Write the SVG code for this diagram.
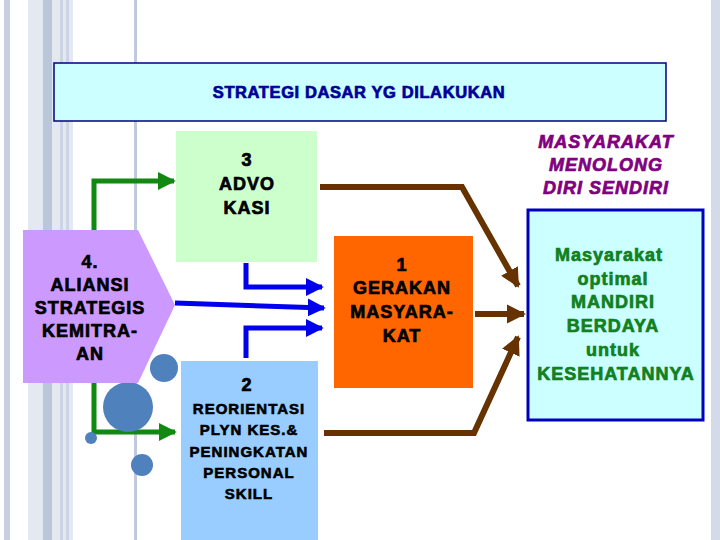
<svg xmlns="http://www.w3.org/2000/svg" width="720" height="540" viewBox="0 0 720 540">
<defs>
<style>
.t{font-family:"Liberation Sans",Arial,sans-serif;font-weight:bold;text-anchor:middle;letter-spacing:1px;stroke-width:0.7px}
.k{font-size:18px;fill:#000;stroke:#000}
.s{font-size:15px;fill:#000;stroke:#000;stroke-width:0.6px}
.g{font-size:18px;fill:#108020;stroke:#108020}
.p{font-size:18px;fill:#800080;stroke:#800080;font-style:italic}
.br{stroke:#663300;stroke-width:6;fill:none}
.bl{stroke:#0000ee;stroke-width:5;fill:none}
.gr{stroke:#118811;stroke-width:5;fill:none}
.c{fill:#4f81bd}
</style>
<marker id="mb" viewBox="0 0 10 10" refX="9" refY="5" markerWidth="3.2" markerHeight="3.2" orient="auto" markerUnits="strokeWidth"><path d="M0,0L10,5L0,10z" fill="#663300"/></marker>
<marker id="mu" viewBox="0 0 10 10" refX="9" refY="5" markerWidth="3.6" markerHeight="3.6" orient="auto" markerUnits="strokeWidth"><path d="M0,0L10,5L0,10z" fill="#0000ee"/></marker>
<marker id="mg" viewBox="0 0 10 10" refX="9" refY="5" markerWidth="3.6" markerHeight="3.6" orient="auto" markerUnits="strokeWidth"><path d="M0,0L10,5L0,10z" fill="#118811"/></marker>
</defs>
<rect width="720" height="540" fill="#fff"/>
<g id="bg">
<rect x="4" y="0" width="6" height="540" fill="#c8d0e0"/>
<rect x="28" y="0" width="45" height="540" fill="#e3e8f1"/>
<rect x="43" y="0" width="9" height="540" fill="#bac6da"/>
<rect x="60" y="0" width="3" height="540" fill="#cdd5e4"/>
<rect x="66" y="0" width="3" height="540" fill="#cdd5e4"/>
<rect x="134" y="0" width="3" height="540" fill="#c0cadc"/>
<rect x="711" y="0" width="9" height="540" fill="#d3daea"/>
</g>
<g id="title"><rect x="54" y="63" width="612" height="58" fill="#ccffff" stroke="#000080" stroke-width="1.5"/>
<text class="t" x="359" y="98" font-size="16.5" fill="#000099" stroke="#000099" stroke-width="0.4" style="letter-spacing:0.6px">STRATEGI DASAR YG DILAKUKAN</text></g>
<g id="connectors">
<path class="br" d="M320,187H462L518,286" marker-end="url(#mb)"/>
<path class="br" d="M475,314H524" marker-end="url(#mb)"/>
<path class="br" d="M324,433H474L518,337" marker-end="url(#mb)"/>
<path class="bl" d="M246,263V287H322" marker-end="url(#mu)"/>
<path class="bl" d="M175,303L324,308" marker-end="url(#mu)" stroke-width="6"/>
<path class="bl" d="M246,358V328H322" marker-end="url(#mu)"/>
<path class="gr" d="M94,230V181H174" marker-end="url(#mg)"/>
<path class="gr" d="M94,383V432H175" marker-end="url(#mg)"/>
</g>
<g id="circles"><circle class="c" cx="164" cy="368" r="14"/><circle class="c" cx="128" cy="407" r="25"/><circle class="c" cx="91" cy="438" r="6"/><circle class="c" cx="142" cy="465" r="11"/></g>
<g id="advokasi"><rect x="176" y="131" width="141" height="131" fill="#ccffcc"/>
<text class="t k" x="247" y="166">3</text><text class="t k" x="247" y="190">ADVO</text><text class="t k" x="247" y="214">KASI</text></g>
<g id="aliansi"><path d="M23,230H138L175,305L138,383H23z" fill="#cc99ff"/>
<text class="t k" x="90" y="268">4.</text><text class="t k" x="90" y="291">ALIANSI</text><text class="t k" x="90" y="314">STRATEGIS</text><text class="t k" x="90" y="337">KEMITRA-</text><text class="t k" x="90" y="360">AN</text></g>
<g id="reorientasi"><rect x="181" y="361" width="137" height="179" fill="#99ccff"/>
<text class="t k" x="247" y="391">2</text>
<text class="t s" x="249" y="414">REORIENTASI</text><text class="t s" x="249" y="435">PLYN KES.&amp;</text><text class="t s" x="249" y="457">PENINGKATAN</text><text class="t s" x="249" y="478">PERSONAL</text><text class="t s" x="249" y="499">SKILL</text></g>
<g id="gerakan"><rect x="334" y="236" width="139" height="152" fill="#ff6600"/>
<text class="t k" x="402" y="271">1</text><text class="t k" x="402" y="294">GERAKAN</text><text class="t k" x="402" y="318">MASYARA-</text><text class="t k" x="402" y="342">KAT</text></g>
<g id="menolong"><text class="t p" x="606" y="148">MASYARAKAT</text><text class="t p" x="606" y="171">MENOLONG</text><text class="t p" x="606" y="194">DIRI SENDIRI</text></g>
<g id="mandiri"><rect x="528" y="210" width="175" height="210" fill="#ccffff" stroke="#0000bb" stroke-width="3"/>
<text class="t g" x="609" y="261">Masyarakat</text><text class="t g" x="613" y="285">optimal</text><text class="t g" x="613" y="308">MANDIRI</text><text class="t g" x="613" y="332">BERDAYA</text><text class="t g" x="613" y="356">untuk</text><text class="t g" x="616" y="380">KESEHATANNYA</text></g>
</svg>
